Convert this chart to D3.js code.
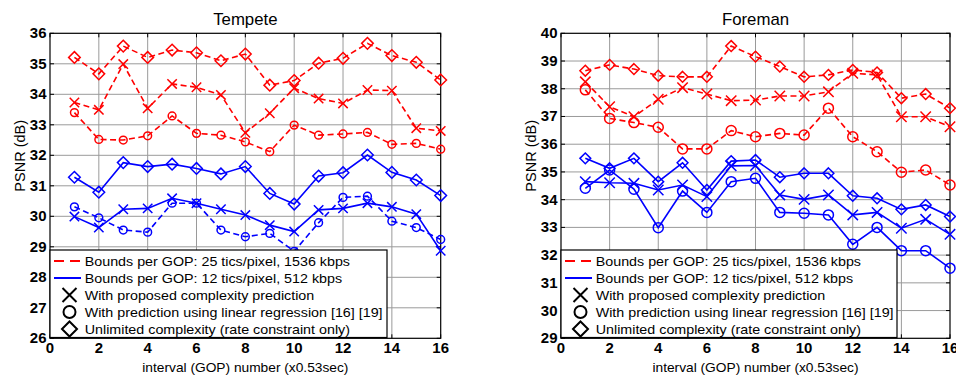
<!DOCTYPE html>
<html>
<head>
<meta charset="utf-8">
<script src="https://cdn.jsdelivr.net/npm/d3@7"></script>
<style>
  body { margin: 0; background: #fff; }
  svg { display: block; font-family: Arial, "Liberation Sans", sans-serif; }
</style>
</head>
<body>
<svg id="chart" width="956" height="379"></svg>
<script>
// GOP interval index (x axis)
const gop = [1, 2, 3, 4, 5, 6, 7, 8, 9, 10, 11, 12, 13, 14, 15, 16];
const xTicks = [0, 2, 4, 6, 8, 10, 12, 14, 16];
const tempeteTicks = [26, 27, 28, 29, 30, 31, 32, 33, 34, 35, 36];
const foremanTicks = [29, 30, 31, 32, 33, 34, 35, 36, 37, 38, 39, 40];

// Tempete, 25 tics/pixel, 1536 kbps (red, dashed)
const tempeteRedX = [33.73, 33.49, 34.99, 33.54, 34.34, 34.23, 33.98, 32.74, 33.38, 34.20, 33.86, 33.70, 34.14, 34.12, 32.89, 32.80];
const tempeteRedO = [33.40, 32.52, 32.50, 32.64, 33.29, 32.72, 32.66, 32.44, 32.12, 32.99, 32.66, 32.70, 32.75, 32.36, 32.39, 32.20];
const tempeteRedD = [35.21, 34.67, 35.58, 35.21, 35.45, 35.36, 35.10, 35.32, 34.30, 34.45, 35.02, 35.18, 35.67, 35.27, 35.05, 34.47];
// Tempete, 12 tics/pixel, 512 kbps (blue)
const tempeteBlueX = [29.99, 29.63, 30.23, 30.26, 30.59, 30.43, 30.23, 30.04, 29.71, 29.50, 30.21, 30.26, 30.43, 30.31, 30.07, 28.87];
const tempeteBlueO = [30.31, 29.95, 29.55, 29.48, 30.43, 30.43, 29.55, 29.33, 29.44, 28.85, 29.79, 30.62, 30.66, 29.84, 29.63, 29.24];
const tempeteBlueD = [31.28, 30.79, 31.76, 31.63, 31.71, 31.57, 31.39, 31.63, 30.75, 30.40, 31.32, 31.43, 32.01, 31.44, 31.19, 30.68];

// Foreman, 25 tics/pixel, 1536 kbps (red, dashed)
const foremanRedX = [38.25, 37.35, 36.99, 37.62, 38.04, 37.81, 37.57, 37.59, 37.74, 37.74, 37.89, 38.56, 38.50, 36.99, 36.99, 36.63];
const foremanRedO = [37.96, 36.93, 36.78, 36.61, 35.83, 35.83, 36.49, 36.27, 36.39, 36.33, 37.30, 36.27, 35.73, 34.99, 35.07, 34.53];
const foremanRedD = [38.65, 38.86, 38.71, 38.47, 38.43, 38.43, 39.54, 39.16, 38.80, 38.43, 38.50, 38.68, 38.59, 37.66, 37.81, 37.30];
// Foreman, 12 tics/pixel, 512 kbps (blue)
const foremanBlueX = [34.65, 34.61, 34.59, 34.35, 34.53, 34.11, 35.22, 35.23, 34.17, 34.01, 34.17, 33.45, 33.54, 32.97, 33.29, 32.75];
const foremanBlueO = [34.41, 35.07, 34.38, 32.99, 34.31, 33.54, 34.65, 34.77, 33.54, 33.51, 33.45, 32.39, 33.00, 32.16, 32.16, 31.53];
const foremanBlueD = [35.49, 35.13, 35.49, 34.65, 35.33, 34.35, 35.39, 35.43, 34.81, 34.95, 34.95, 34.14, 34.05, 33.65, 33.81, 33.39];

const legendLabels = [
  'Bounds per GOP: 25 tics/pixel, 1536 kbps',
  'Bounds per GOP: 12 tics/pixel, 512 kbps',
  'With proposed complexity prediction',
  'With prediction using linear regression [16] [19]',
  'Unlimited complexity (rate constraint only)'
];

const RED = '#ff0000', BLUE = '#0000ff';

const panels = [
  {
    title: 'Tempete', x0: 50, x1: 440.7, top: 33.3, bottom: 338.3,
    yDomain: [26, 36], yTicks: tempeteTicks, legendRight: 387,
    size: { X: 4.7, O: 3.9, D: 5.8 },
    series: [
      { v: tempeteRedD, c: RED, m: 'D', dash: true },
      { v: tempeteRedX, c: RED, m: 'X', dash: true },
      { v: tempeteRedO, c: RED, m: 'O', dash: true },
      { v: tempeteBlueD, c: BLUE, m: 'D', dash: false },
      { v: tempeteBlueX, c: BLUE, m: 'X', dash: false },
      { v: tempeteBlueO, c: BLUE, m: 'O', dash: true }
    ]
  },
  {
    title: 'Foreman', x0: 561, x1: 950, top: 33.3, bottom: 338.3,
    yDomain: [29, 40], yTicks: foremanTicks, legendRight: 897,
    size: { X: 5.2, O: 5, D: 5.4 },
    series: [
      { v: foremanRedD, c: RED, m: 'D', dash: true },
      { v: foremanRedX, c: RED, m: 'X', dash: true },
      { v: foremanRedO, c: RED, m: 'O', dash: true },
      { v: foremanBlueD, c: BLUE, m: 'D', dash: false },
      { v: foremanBlueX, c: BLUE, m: 'X', dash: false },
      { v: foremanBlueO, c: BLUE, m: 'O', dash: false }
    ]
  }
];

const svg = d3.select('#chart');

function marker(g, type, cx, cy, s, color, sw) {
  if (type === 'O') {
    g.append('circle').attr('cx', cx).attr('cy', cy).attr('r', s)
      .attr('fill', 'none').attr('stroke', color).attr('stroke-width', sw);
  } else if (type === 'X') {
    g.append('path')
      .attr('d', `M${cx - s},${cy - s}L${cx + s},${cy + s}M${cx - s},${cy + s}L${cx + s},${cy - s}`)
      .attr('fill', 'none').attr('stroke', color).attr('stroke-width', sw);
  } else {
    g.append('path')
      .attr('d', `M${cx},${cy - s}L${cx + s},${cy}L${cx},${cy + s}L${cx - s},${cy}Z`)
      .attr('fill', 'none').attr('stroke', color).attr('stroke-width', sw);
  }
}

// the source figure was resampled a little wider than tall, so text is stretched horizontally
function stretchedText(g, str, x, y, size, anchor, stretch, weight) {
  return g.append('text')
    .attr('transform', `translate(${x},${y}) scale(${stretch},1)`)
    .attr('text-anchor', anchor)
    .attr('font-size', size)
    .attr('font-weight', weight || 'normal')
    .attr('fill', '#000')
    .text(str);
}

panels.forEach(function(p) {
  const g = svg.append('g');
  const x = d3.scaleLinear().domain([0, 16]).range([p.x0, p.x1]);
  const y = d3.scaleLinear().domain(p.yDomain).range([p.bottom, p.top]);

  // grid
  g.append('g').selectAll('line').data(xTicks.slice(1, -1)).enter().append('line')
    .attr('x1', d => x(d)).attr('x2', d => x(d))
    .attr('y1', p.top).attr('y2', p.bottom)
    .attr('stroke', '#9a9a9a').attr('stroke-width', 1);
  g.append('g').selectAll('line').data(p.yTicks.slice(1, -1)).enter().append('line')
    .attr('x1', p.x0).attr('x2', p.x1)
    .attr('y1', d => y(d)).attr('y2', d => y(d))
    .attr('stroke', '#9a9a9a').attr('stroke-width', 1);

  // inward ticks on all four sides
  const tk = 4;
  xTicks.forEach(function(t) {
    g.append('line').attr('x1', x(t)).attr('x2', x(t)).attr('y1', p.bottom).attr('y2', p.bottom - tk).attr('stroke', '#000');
    g.append('line').attr('x1', x(t)).attr('x2', x(t)).attr('y1', p.top).attr('y2', p.top + tk).attr('stroke', '#000');
  });
  p.yTicks.forEach(function(t) {
    g.append('line').attr('x1', p.x0).attr('x2', p.x0 + tk).attr('y1', y(t)).attr('y2', y(t)).attr('stroke', '#000');
    g.append('line').attr('x1', p.x1).attr('x2', p.x1 - tk).attr('y1', y(t)).attr('y2', y(t)).attr('stroke', '#000');
  });

  // box
  g.append('rect').attr('x', p.x0).attr('y', p.top)
    .attr('width', p.x1 - p.x0).attr('height', p.bottom - p.top)
    .attr('fill', 'none').attr('stroke', '#000').attr('stroke-width', 1.2);

  // tick labels
  xTicks.forEach(function(t) {
    stretchedText(g, t, x(t), p.bottom + 14.5, 14, 'middle', 1.07, 'bold');
  });
  p.yTicks.forEach(function(t) {
    stretchedText(g, t, p.x0 - 3.5, y(t) + 5, 14, 'end', 1.07, 'bold');
  });

  // titles
  stretchedText(g, p.title, (p.x0 + p.x1) / 2, 24.5, 16, 'middle', 1.05);
  stretchedText(g, 'interval (GOP) number (x0.53sec)', (p.x0 + p.x1) / 2, 372, 12.5, 'middle', 1.1);
  g.append('text')
    .attr('transform', `translate(${p.x0 - 25.5},${(p.top + p.bottom) / 2 - 30}) rotate(-90)`)
    .attr('text-anchor', 'middle').attr('font-size', 14.5).attr('fill', '#000')
    .text('PSNR (dB)');

  // series
  const line = d3.line().x((d, i) => x(gop[i])).y(d => y(d));
  p.series.forEach(function(s) {
    g.append('path').datum(s.v).attr('d', line)
      .attr('fill', 'none').attr('stroke', s.c).attr('stroke-width', 1.6)
      .attr('stroke-dasharray', s.dash ? '6,3.5' : null);
    const mg = g.append('g');
    s.v.forEach(function(v, i) {
      marker(mg, s.m, x(gop[i]), y(v), p.size[s.m], s.c, 1.5);
    });
  });

  // legend
  const lx = p.x0, ly = 250;
  const lg = g.append('g');
  lg.append('rect').attr('x', lx).attr('y', ly)
    .attr('width', p.legendRight - lx).attr('height', 87.5)
    .attr('fill', '#fff').attr('stroke', '#000').attr('stroke-width', 1.2);
  const rows = [261, 278, 295, 312, 329];
  lg.append('line').attr('x1', lx + 4).attr('x2', lx + 31).attr('y1', rows[0]).attr('y2', rows[0])
    .attr('stroke', RED).attr('stroke-width', 2).attr('stroke-dasharray', '10,6');
  lg.append('line').attr('x1', lx + 4).attr('x2', lx + 31).attr('y1', rows[1]).attr('y2', rows[1])
    .attr('stroke', BLUE).attr('stroke-width', 2);
  marker(lg, 'X', lx + 19.5, rows[2], 7, '#000', 2);
  marker(lg, 'O', lx + 19.5, rows[3], 6, '#000', 2);
  marker(lg, 'D', lx + 19.5, rows[4], 7.5, '#000', 2);
  legendLabels.forEach(function(t, i) {
    stretchedText(lg, t, lx + 34.7, rows[i] + 4.6, 13, 'start', 1.1);
  });
});
</script>
</body>
</html>
